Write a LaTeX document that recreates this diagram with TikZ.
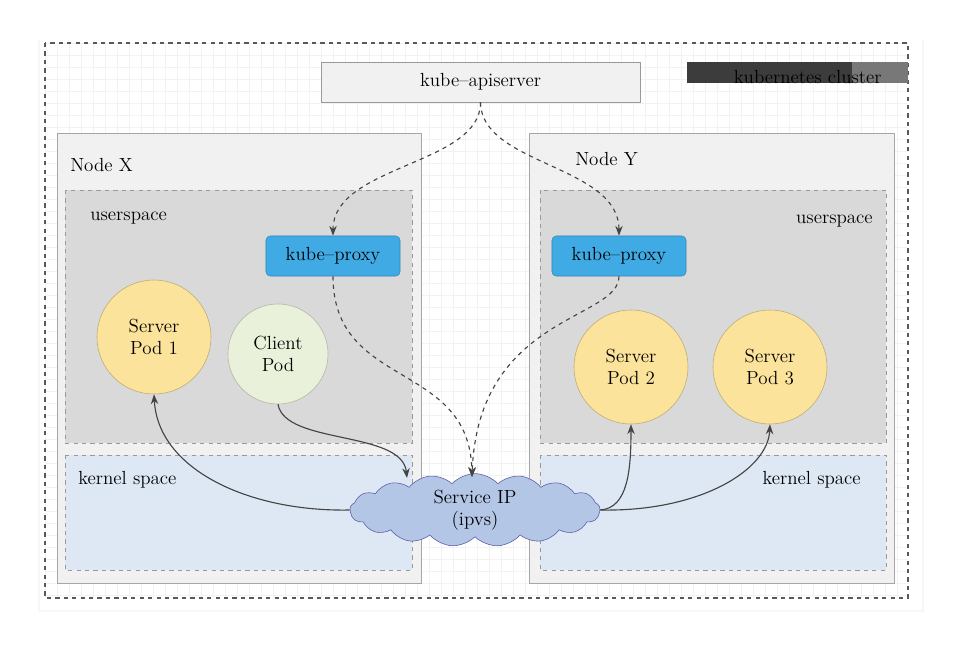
\documentclass[tikz,border=0pt]{standalone}
\usetikzlibrary{shapes, shapes.symbols, arrows.meta, positioning, calc}
\definecolor{nodegray}{RGB}{241,241,241}
\definecolor{usergray}{RGB}{217,217,217}
\definecolor{kernelblue}{RGB}{222,232,245}
\definecolor{proxyblue}{RGB}{64,170,228}
\definecolor{podyellow}{RGB}{252,227,155}
\definecolor{podgreen}{RGB}{233,241,218}
\definecolor{cloudblue}{RGB}{179,198,230}
\definecolor{linegray}{RGB}{68,68,68}
\definecolor{bardark}{RGB}{60,60,60}
\definecolor{barlight}{RGB}{120,120,120}

\begin{document}
\begin{tikzpicture}[x=0.025cm, y=-0.025cm,
  font=\fontsize{13.5}{16}\selectfont,
  host/.style={draw=gray!70, fill=nodegray},
  area/.style={draw=gray!80, fill=#1, dashed},
  pod/.style={draw=#1!75!black, fill=#1, circle, minimum size=2.85cm, align=center, inner sep=0pt},
  proxy/.style={draw=proxyblue!80!black, fill=proxyblue, rounded corners=3pt, minimum width=3.35cm, minimum height=1cm},
  arr/.style={-{Stealth[length=7pt]}, thick, draw=linegray},
  darr/.style={arr, dashed},
]
  \useasboundingbox (0,0) rectangle (963,652);
  \fill[gray!6] (38,40) rectangle (924,612);
  \fill[white] (40,40) rectangle (922,610);
  \foreach \gx in {45,57,...,908} \draw[gray!10, very thin] (\gx,43) -- (\gx,598);
  \foreach \gy in {43,55,...,598} \draw[gray!10, very thin] (45,\gy) -- (908,\gy);
  \draw[gray!70!black, thick, dashed] (45,43) rectangle (908,598);

  % cluster label
  \fill[bardark] (687,62) rectangle (852,83);
  \fill[barlight] (852,62) rectangle (908,83);
  \node[anchor=base east, inner sep=0pt] (clusterlabel) at (882,83) {kubernetes cluster};

  \node[draw=gray!80, fill=nodegray, minimum width=7.975cm, minimum height=1cm] (api) at (480.5,82) {kube--apiserver};

  % Node X
  \draw[host] (57,133) rectangle (421,583);
  \node[anchor=base west, inner sep=0pt] (nxlabel) at (70,171) {Node X};
  \draw[area=usergray] (65,190) rectangle (412,443);
  \node[anchor=base west, inner sep=0pt] (uxlabel) at (90,220) {userspace};
  \draw[area=kernelblue] (65,455) rectangle (412,570);
  \node[anchor=base west, inner sep=0pt] (kxlabel) at (78,484) {kernel space};

  % Node Y
  \draw[host] (529,133) rectangle (894,583);
  \node[anchor=base west, inner sep=0pt] (nylabel) at (575,165) {Node Y};
  \draw[area=usergray] (540,190) rectangle (886,443);
  \node[anchor=base east, inner sep=0pt] (uylabel) at (873,223) {userspace};
  \draw[area=kernelblue] (540,455) rectangle (886,570);
  \node[anchor=base east, inner sep=0pt] (kylabel) at (861,484) {kernel space};

  \node[proxy] (pxX) at (333,256) {kube--proxy};
  \node[proxy] (pxY) at (619,256) {kube--proxy};

  \node[pod=podyellow] (pod1) at (154,337) {Server\\Pod 1};
  \node[pod=podgreen, minimum size=2.5cm] (client) at (278,354) {Client\\Pod};
  \node[pod=podyellow] (pod2) at (631,367) {Server\\Pod 2};
  \node[pod=podyellow] (pod3) at (770,367) {Server\\Pod 3};

  \node[cloud, cloud puffs=17, cloud puff arc=95, aspect=3.5, draw=gray!70!blue, fill=cloudblue,
        minimum width=6.25cm, minimum height=1.7cm, inner sep=0pt, align=center] (svc) at (475,510) {Service IP\\(ipvs)};
  \coordinate (svcin) at (472,477);

  \draw[darr] (api.south) .. controls (481,165) and (333,165) .. (pxX.north);
  \draw[darr] (api.south) .. controls (481,165) and (619,165) .. (pxY.north);
  \draw[darr] (pxX.south) .. controls (333,390) and (470,360) .. (svcin);
  \draw[darr] (pxY.south) .. controls (619,320) and (478,315) .. (svcin);

  \draw[arr] (client.south) .. controls (285,445) and (402,430) .. (407,478);
  \draw[arr] (svc.west) .. controls (250,512) and (158,470) .. (pod1.south);
  \draw[arr] (svc.east) .. controls (628,508) and (631,470) .. (pod2.south);
  \draw[arr] (svc.east) .. controls (700,512) and (768,470) .. (pod3.south);
\end{tikzpicture}
\end{document}
